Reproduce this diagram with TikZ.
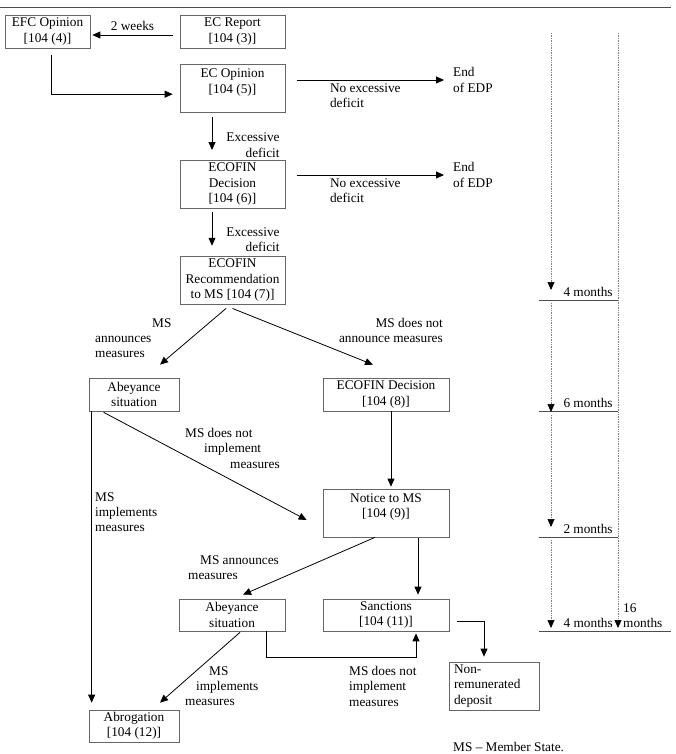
\documentclass[tikz,border=0pt]{standalone}
\usepackage{fontspec}
\setmainfont{Liberation Serif}
\usetikzlibrary{arrows.meta,positioning}

\begin{document}
\begin{tikzpicture}[
  x=1pt,y=-1pt,
  >={Triangle[length=8pt,width=7pt]},
  font=\fontsize{13.3}{15.4}\selectfont,
  node distance=47pt,
  stage/.style={draw=black!60,line width=0.7pt,align=center,inner xsep=2pt,
    inner ysep=1pt,minimum width=105pt,minimum height=33pt},
  tall/.style={minimum height=48pt},
  flow/.style={->,line width=0.8pt},
  note/.style={inner sep=1pt,align=left},
  period/.style={-{Triangle[length=8pt,width=7pt,color=black]},densely dotted,
    black!50,line width=0.7pt},
  monthline/.style={black!70,line width=0.7pt},
  monthlabel/.style={text=black,anchor=south east,inner xsep=1pt,inner ysep=3pt}
]
  \useasboundingbox (0,0) rectangle (675,754);
  \draw[black!70,line width=1pt] (0,8) -- (671,8);

  % procedure boxes
  \node[stage] (ecrep) at (232.5,31.5) {EC Report\\{}[104 (3)]};
  \node[stage,minimum width=85pt] (efc) at (47.5,31.5) {EFC Opinion\\{}[104 (4)]};
  \node[stage,tall,below=16pt of ecrep] (ecop) {EC Opinion\\{}[104 (5)]\\\mbox{}};
  \node[stage,tall,below=of ecop] (dec6) {ECOFIN\\Decision\\{}[104 (6)]};
  \node[stage,tall,below=of dec6] (rec) {ECOFIN\\Recommendation\\to MS [104 (7)]};
  \node[stage,minimum width=90pt] (abey1) at (134,394.5) {Abeyance\\situation};
  \node[stage,minimum width=126pt] (dec8) at (386,394.5) {ECOFIN Decision\\{}[104 (8)]};
  \node[stage,tall,minimum width=126pt] (notice) at (386,513) {Notice to MS\\{}[104 (9)]\\\mbox{}};
  \node[stage,minimum width=106pt,minimum height=32pt] (abey2) at (232,615) {Abeyance\\situation};
  \node[stage,minimum width=126pt,minimum height=32pt] (sanc) at (386,615) {Sanctions\\{}[104 (11)]};
  \node[stage,minimum width=90pt,minimum height=32pt] (abrog) at (134,726) {Abrogation\\{}[104 (12)]};
  \node[stage,tall,align=left,minimum width=0pt,text width=80pt,inner xsep=5pt]
    (deposit) at (494,686) {Non-\\remunerated\\deposit};
  \node[note,anchor=west] (end1) at (452,80) {End\\of EDP};
  \node[note,anchor=west] (end2) at (452,175) {End\\of EDP};

  % connectors
  \draw[flow] ([xshift=-7pt,yshift=-3.5pt]ecrep.west) -- node[above=1pt] {2 weeks}
    ([xshift=2pt,yshift=-3.5pt]efc.east);
  \draw[flow] ([xshift=3.5pt,yshift=-7pt]efc.south) |- ([xshift=-7pt,yshift=-5.5pt]ecop.west);
  \draw[flow,shorten <=12pt,shorten >=8pt] (ecop.east |- end1.west) --
    node[note,pos=0.26,anchor=north west,yshift=-2pt] {No excessive\\deficit} (end1.west);
  \draw[flow,shorten <=12pt,shorten >=8pt] (dec6.east |- end2.west) --
    node[note,pos=0.26,anchor=north west,yshift=-2pt] {No excessive\\deficit} (end2.west);
  \draw[flow,shorten <=4pt,shorten >=10pt] ([xshift=-20.5pt]ecop.south) --
    node[note,pos=0.68,right=13pt,align=right] {Excessive\\deficit} ([xshift=-20.5pt]dec6.north);
  \draw[flow,shorten <=3pt,shorten >=10pt] ([xshift=-20.5pt]dec6.south) --
    node[note,pos=0.66,right=13pt,align=right] {Excessive\\deficit} ([xshift=-20.5pt]rec.north);
  \draw[flow] ([xshift=-6.5pt,yshift=-4pt]rec.south) -- ([xshift=26pt,yshift=13pt]abey1.north);
  \draw[flow] ([yshift=-4pt]rec.south) -- ([xshift=-13pt,yshift=13pt]dec8.north);
  \draw[flow] ([xshift=15pt,yshift=-1pt]abey1.south west) -- ([xshift=-16pt,yshift=-7pt]notice.west);
  \draw[flow,shorten >=7pt] ([xshift=3pt]abey1.south west) -- ([xshift=3pt]abrog.north west);
  \draw[flow,shorten >=2pt] ([xshift=5pt]dec8.south) -- ([xshift=5pt]notice.north);
  \draw[flow] ([xshift=-11pt]notice.south) -- ([xshift=11pt,yshift=4pt]abey2.north);
  \draw[flow] ([xshift=32pt,yshift=-1pt]notice.south) -- ([xshift=32pt,yshift=4pt]sanc.north);
  \draw[flow,shorten >=2pt] ([xshift=34pt]abey2.south) -- ++(0,26) -| ([xshift=30pt]sanc.south);
  \draw[flow] ([xshift=8pt,yshift=-1pt]abey2.south) -- ([xshift=26pt,yshift=7pt]abrog.north);
  \draw[flow,shorten >=5pt] ([xshift=8pt,yshift=-6pt]sanc.east) -| ([xshift=-10pt]deposit.north);

  % branch labels
  \node[note,anchor=north west] (announce1) at (94,317) {\hspace*{57pt}MS\\announces\\measures};
  \node[note,anchor=north east,align=right] (noannounce) at (444,317) {MS does not\\announce measures};
  \node[note,anchor=north west] (noimpl1) at (184,427) {MS does not\\\hspace*{19pt}implement\\\hspace*{45pt}measures};
  \node[note,anchor=north west] (impl1) at (94,491) {MS\\implements\\measures};
  \node[note,anchor=north west] (announce2) at (187,554) {\hspace*{12pt}MS announces\\measures};
  \node[note,anchor=north west] (noimpl2) at (348,665) {MS does not\\implement\\measures};
  \node[note,anchor=north west] (impl2) at (184,665) {\hspace*{24pt}MS\\\hspace*{11pt}implements\\measures};

  % time scale
  \foreach \y/\m in {300/4,411/6,537/2}
    \draw[monthline] (539,\y) -- (618,\y)
      node[monthlabel,xshift=-4pt] {\m{} months};
  \draw[monthline] (539,631) -- (671,631);
  \node[monthlabel] (last4) at (614,631) {4 months};
  \node[note,anchor=south west,inner ysep=3pt] (total) at (622,631) {16\\months};
  \foreach \a/\b in {33/290,303/412,415/527,540/628}
    \draw[period] (551,\a) -- (551,\b);
  \draw[period] (618,33) -- (618,628);

  \node[anchor=north west,inner sep=0pt] (key) at (453,742) {MS -- Member State.};
\end{tikzpicture}
\end{document}
